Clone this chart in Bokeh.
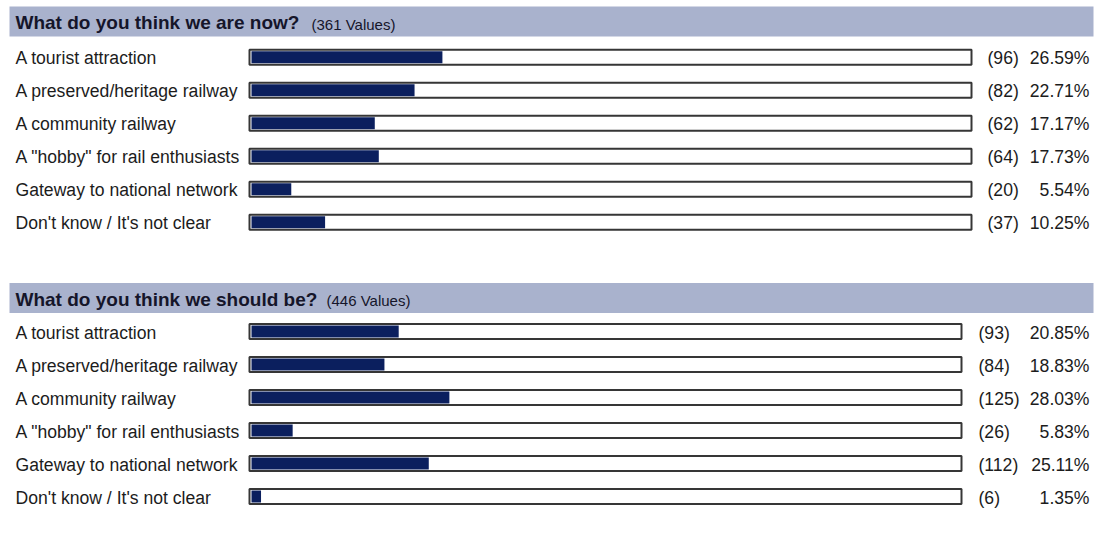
from bokeh.plotting import figure
from bokeh.models import Range1d, ColumnDataSource
from bokeh.layouts import column
from bokeh.embed import file_html
from bokeh.resources import INLINE
from bokeh.core.properties import value

# ---------------- data ----------------
categories = [
    "A tourist attraction",
    "A preserved/heritage railway",
    "A community railway",
    'A "hobby" for rail enthusiasts',
    "Gateway to national network",
    "Don't know / It's not clear",
]
now_title = "What do you think we are now?"
now_total = 361
now_counts = [96, 82, 62, 64, 20, 37]
now_pcts = [26.59, 22.71, 17.17, 17.73, 5.54, 10.25]

should_title = "What do you think we should be?"
should_total = 446
should_counts = [93, 84, 125, 26, 112, 6]
should_pcts = [20.85, 18.83, 28.03, 5.83, 25.11, 1.35]

# ---------------- style ----------------
W = 1095
ROW = 33.0
FONT = "Liberation Sans"
HEADER_BG = "#a9b2cd"
BAR = "#0b1f5e"
TRACK_LINE = "#363636"
TEXT = "#1c1c1c"


def panel(title, total, counts, pcts, height, row0, band_top, band_bot, sub_px,
          px_zero, px_full, track_l, track_r, count_px, pct_px):
    # horizontal scale: percent units
    per_px = 100.0 / (px_full - px_zero)
    span = W * per_px
    xs = -px_zero * per_px

    def X(screen_x):
        return xs + screen_x * per_px

    # vertical scale: row units, inverted (row 0 at top)
    ye = -row0 / ROW
    ys = ye + height / ROW

    def Y(local_y):
        return ye + local_y / ROW

    p = figure(width=W, height=height, output_backend="svg", toolbar_location=None,
               x_range=Range1d(xs, xs + span), y_range=Range1d(ys, ye),
               min_border=0, min_border_left=0, min_border_right=0,
               min_border_top=0, min_border_bottom=0)
    p.axis.visible = False
    p.grid.visible = False
    p.outline_line_color = None
    p.background_fill_color = "white"
    p.border_fill_color = "white"

    n = len(categories)
    rows = list(range(n))

    # header band
    p.quad(left=[X(9)], right=[X(1093)], top=[Y(band_top)], bottom=[Y(band_bot)],
           fill_color=HEADER_BG, line_color=None)
    ymid = Y((band_top + band_bot) / 2 + 1)
    p.text(x=[X(15)], y=[ymid], text=[title], text_font=value(FONT),
           text_font_size="19px", text_font_style="bold", text_color="#15152a",
           text_baseline="middle", text_align="left")
    p.text(x=[X(sub_px)], y=[ymid + 1.5 / ROW], text=["(%d Values)" % total], text_font=value(FONT),
           text_font_size="15px", text_color="#15152a",
           text_baseline="middle", text_align="left")

    src = ColumnDataSource(dict(
        y=rows, cat=categories, pct=pcts,
        cnt=["(%d)" % c for c in counts],
        pctl=["%.2f%%" % v for v in pcts],
        zero=[0.0] * n,
    ))

    # tracks
    p.hbar(y="y", left=X(track_l), right=X(track_r), height=15 / ROW, source=src,
           fill_color="white", line_color=TRACK_LINE, line_width=2)
    # bars
    p.hbar(y="y", left="zero", right="pct", height=12 / ROW, source=src,
           fill_color=BAR, line_color=None)

    # labels
    p.text(x=X(15), y="y", text="cat", source=src, text_font=value(FONT),
           text_font_size="17.6px", text_color=TEXT, text_baseline="middle",
           text_align="left", y_offset=1)
    p.text(x=X(count_px), y="y", text="cnt", source=src, text_font=value(FONT),
           text_font_size="17.6px", text_color=TEXT, text_baseline="middle",
           text_align="left", y_offset=1)
    p.text(x=X(pct_px), y="y", text="pctl", source=src, text_font=value(FONT),
           text_font_size="17.6px", text_color=TEXT, text_baseline="middle",
           text_align="right", y_offset=1)
    return p


p1 = panel(now_title, now_total, now_counts, now_pcts,
           height=275, row0=56.7, band_top=6, band_bot=36, sub_px=311,
           px_zero=251, px_full=969, track_l=249, track_r=971,
           count_px=987, pct_px=1089)
p2 = panel(should_title, should_total, should_counts, should_pcts,
           height=262, row0=56, band_top=7.5, band_bot=37.5, sub_px=326,
           px_zero=251, px_full=957, track_l=249, track_r=961,
           count_px=978, pct_px=1089)

layout = column(p1, p2, spacing=0)

open("out.html", "w").write(file_html(layout, INLINE))
